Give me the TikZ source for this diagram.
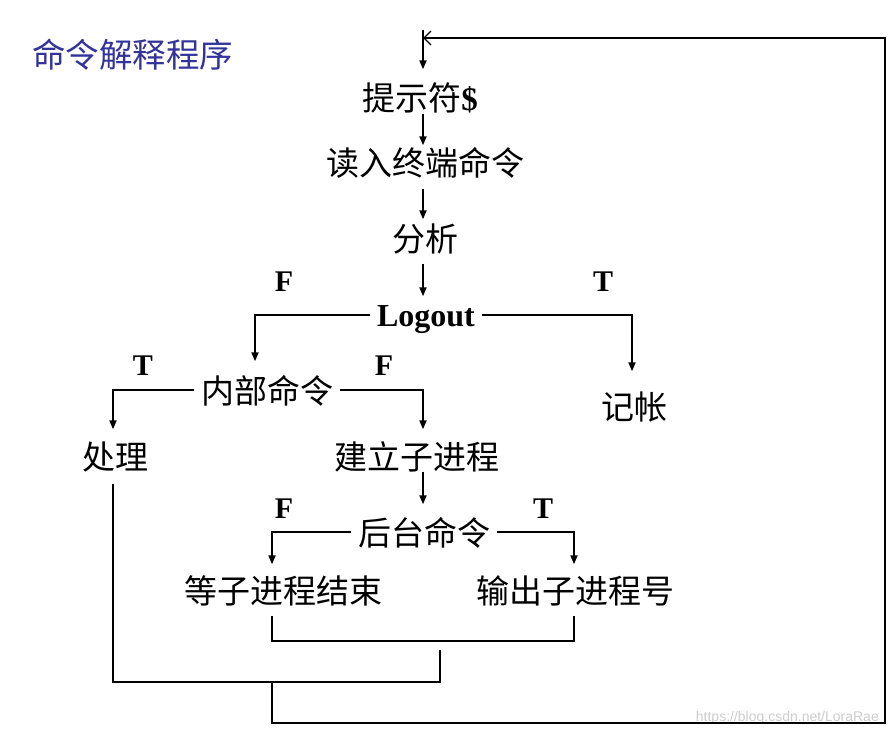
\documentclass[tikz,border=0pt]{standalone}
\usepackage{fontspec}
\setmainfont{Liberation Serif}
\newfontfamily\cjk{Noto Sans CJK SC}
\newfontfamily\wmfont{Liberation Sans}
\usetikzlibrary{arrows.meta}
\definecolor{titleblue}{RGB}{51,51,153}
\definecolor{wmgray}{RGB}{205,205,205}
\begin{document}
\begin{tikzpicture}[x=1pt,y=-1pt,
  txt/.style={font=\cjk\fontsize{33}{38}\selectfont, inner xsep=7pt, inner ysep=0pt, text height=29.6pt, text depth=3.4pt},
  lgt/.style={font=\bfseries\fontsize{32}{38}\selectfont, inner xsep=7pt, inner ysep=0pt, text height=28.4pt, text depth=4.6pt},
  lbl/.style={font=\bfseries\fontsize{30}{36}\selectfont, inner sep=0pt},
  line/.style={line width=1.9pt},
  arr/.style={line width=1.9pt, -{Triangle[length=9pt,width=7pt]}},
  openarr/.style={line width=1.9pt, -{Straight Barb[length=7pt,width=14pt,line width=1.4pt]}}]
\fill[white] (0,0) rectangle (891,735);
\useasboundingbox (0,0) rectangle (891,735);

% title
\node[font=\cjk\fontsize{33.5}{38}\selectfont, text=titleblue, anchor=west, inner sep=0pt] (title) at (32,55) {命令解释程序};

% main column
\node[txt] (prompt) at (420,97) {提示符{\rmfamily\bfseries\$}};
\node[txt] (read) at (425,162) {读入终端命令};
\node[txt] (anal) at (425,238) {分析};
\node[lgt] (logout) at (426,315) {Logout};
\node[txt] (inner) at (267,390) {内部命令};
\node[txt] (acct) at (634,406) {记帐};
\node[txt] (proc) at (115,456) {处理};
\node[txt] (create) at (417,456) {建立子进程};
\node[txt] (bg) at (424,532) {后台命令};
\node[txt] (wait) at (283,590) {等子进程结束};
\node[txt] (out) at (575,590) {输出子进程号};

% branch labels
\node[lbl] (lf1) at (284,282) {F};
\node[lbl] (lt1) at (603,282) {T};
\node[lbl] (lt2) at (143,366) {T};
\node[lbl] (lf2) at (384,366) {F};
\node[lbl] (lf3) at (284,509) {F};
\node[lbl] (lt3) at (543,509) {T};

% watermark
\node[font=\wmfont\fontsize{14}{16}\selectfont, text=wmgray, anchor=east, inner sep=0pt] (wm) at (879,718) {https://blog.csdn.net/LoraRae};

% coordinates
\coordinate (top) at (423,30);
\coordinate (topin) at (423,38);
\coordinate (colx) at (423,0);
\coordinate (j2) at (440,650);
\coordinate (j3) at (272,682);

% vertical flow (all on the column x = 423)
\draw[arr, shorten >=11pt] (top) -- (top |- prompt.north);
\draw[arr] (colx |- prompt.south) -- (colx |- read.north);
\draw[arr, shorten <=10pt, shorten >=2pt] (colx |- read.south) -- (colx |- anal.north);
\draw[arr, shorten <=9pt, shorten >=2pt] (colx |- anal.south) -- (colx |- logout.north);

% Logout branches
\draw[arr, shorten >=12pt] (logout.west) -| ([xshift=-12pt]inner.north);
\draw[arr, shorten >=18pt] (logout.east) -| ([xshift=-2pt]acct.north);

% internal command branches
\draw[arr, shorten >=10pt] (inner.west) -| ([xshift=-2pt]proc.north);
\draw[arr, shorten >=10pt] (inner.east) -| (colx |- create.north);

% create -> background
\draw[arr, shorten <=-1pt, shorten >=11pt] (colx |- create.south) -- (colx |- bg.north);

% background branches
\draw[arr, shorten >=9pt] (bg.west) -| ([xshift=-11pt]wait.north);
\draw[arr, shorten >=9pt] (bg.east) -| ([xshift=-1pt]out.north);

% bracket under wait/out
\draw[line] ([xshift=-11pt,yshift=-9pt]wait.south) |- ([xshift=-1pt,yshift=-34pt]out.south) -- ([xshift=-1pt,yshift=-9pt]out.south);

% merge from proc
\draw[line, shorten <=11pt] ([xshift=-2pt]proc.south) |- (440,682) -- (j2);

% return loop
\draw[openarr] (j3) -- (272,723) -- (885,723) -- (885,38) -- (topin);
\end{tikzpicture}
\end{document}
